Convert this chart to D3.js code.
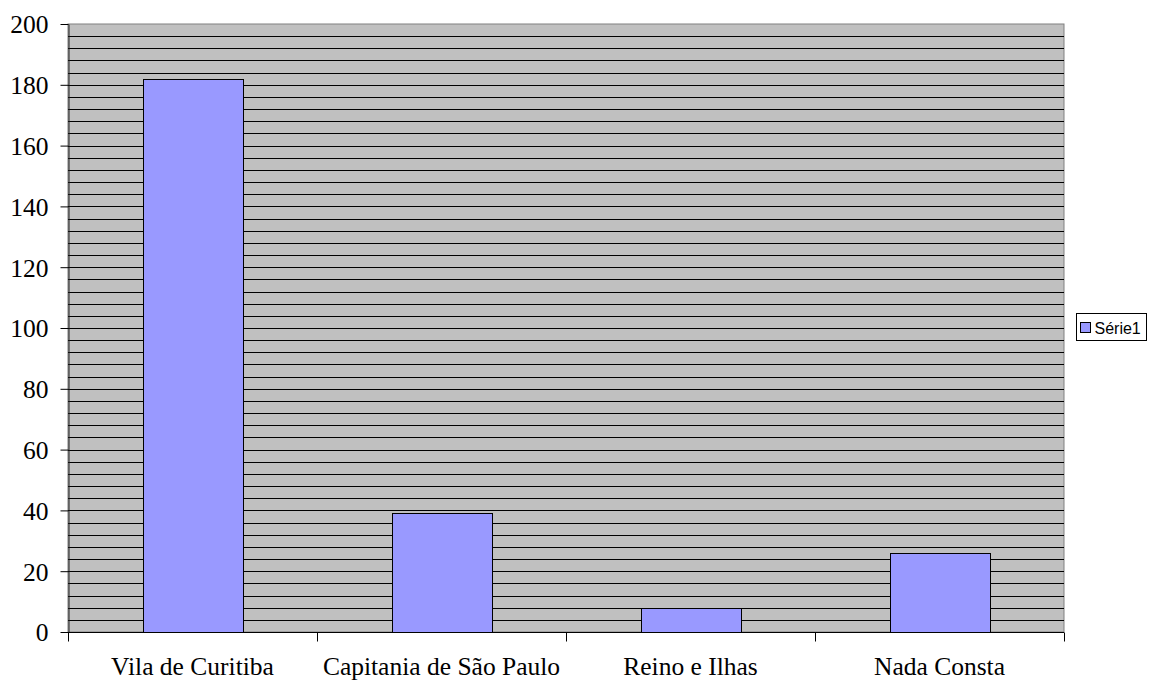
<!DOCTYPE html>
<html lang="en">
<head>
<meta charset="UTF-8">
<title>Série1</title>
<script src="https://cdn.jsdelivr.net/npm/d3@7"></script>
<style>
  body { margin: 0; background: #fff; }
</style>
</head>
<body>
<svg id="main" width="1149" height="681"></svg>
<script>
const categories = ['Vila de Curitiba', 'Capitania de São Paulo', 'Reino e Ilhas', 'Nada Consta'];
const values = [182, 39, 8, 26];
const yTicks = [0, 20, 40, 60, 80, 100, 120, 140, 160, 180, 200];
const seriesName = 'Série1';

const serif = '"Liberation Serif", "Times New Roman", serif';
const svg = d3.select('svg#main');
const plot = {left: 68, right: 1064, top: 24, bottom: 632};

const x = d3.scaleBand().domain(categories).range([plot.left, plot.right]).paddingInner(0.6).paddingOuter(0.3);
const xCat = d3.scaleBand().domain(categories).range([plot.left, plot.right]);
const y = d3.scaleLinear().domain([0, 200]).range([plot.bottom, plot.top]);

// plot background
svg.append('rect')
  .attr('x', plot.left).attr('y', plot.top)
  .attr('width', plot.right - plot.left).attr('height', plot.bottom - plot.top)
  .attr('fill', '#c0c0c0').attr('stroke', '#808080');

// gridlines every 4
svg.append('g').selectAll('line')
  .data(d3.range(4, 200, 4))
  .enter().append('line')
  .attr('x1', plot.left).attr('x2', plot.right)
  .attr('y1', d => Math.round(y(d)) + 0.5).attr('y2', d => Math.round(y(d)) + 0.5)
  .attr('stroke', '#000').attr('stroke-width', 1);

// bars
svg.append('g').selectAll('rect')
  .data(values)
  .enter().append('rect')
  .attr('x', (d, i) => Math.round(x(categories[i])) + 0.5)
  .attr('y', d => Math.round(y(d)) + 0.5)
  .attr('width', Math.round(x.bandwidth()))
  .attr('height', d => Math.round(y(0)) - Math.round(y(d)))
  .attr('fill', '#9999ff').attr('stroke', '#000').attr('stroke-width', 1);

// y axis
const yAxis = svg.append('g')
  .attr('transform', `translate(${plot.left + 0.5},0)`)
  .call(d3.axisLeft(y).tickValues(yTicks).tickSize(8).tickPadding(12).tickSizeOuter(0));
yAxis.select('.domain').attr('stroke', '#222');
yAxis.selectAll('.tick line').attr('stroke', '#000');
yAxis.selectAll('.tick text')
  .attr('dy', '0.35em')
  .style('font-family', serif).style('font-size', '25.5px').style('fill', '#000');

// x axis
const xAxis = svg.append('g')
  .attr('transform', `translate(0,${plot.bottom + 0.5})`);
xAxis.append('line')
  .attr('x1', plot.left).attr('x2', plot.right)
  .attr('stroke', '#000');
xAxis.selectAll('line.tk')
  .data([categories[0]].concat(categories))
  .enter().append('line')
  .attr('class', 'tk')
  .attr('x1', (d, i) => Math.round(i === 0 ? xCat(d) : xCat(d) + xCat.bandwidth()) + 0.5)
  .attr('x2', (d, i) => Math.round(i === 0 ? xCat(d) : xCat(d) + xCat.bandwidth()) + 0.5)
  .attr('y1', 0).attr('y2', 9)
  .attr('stroke', '#000');
xAxis.selectAll('text')
  .data(categories)
  .enter().append('text')
  .attr('x', d => xCat(d) + xCat.bandwidth() / 2)
  .attr('y', 42.5)
  .attr('text-anchor', 'middle')
  .style('font-family', serif)
  .style('font-size', '25.5px')
  .text(d => d);

// legend
const legend = svg.append('g').attr('transform', 'translate(1076.5,313.5)');
legend.append('rect').attr('width', 70).attr('height', 27).attr('fill', '#fff').attr('stroke', '#000');
legend.append('rect').attr('x', 4).attr('y', 9).attr('width', 10).attr('height', 10)
  .attr('fill', '#9999ff').attr('stroke', '#000');
legend.append('text').attr('x', 18).attr('y', 20)
  .style('font-family', '"Liberation Sans", Arial, sans-serif').style('font-size', '16px')
  .text(seriesName);
</script>
</body>
</html>
